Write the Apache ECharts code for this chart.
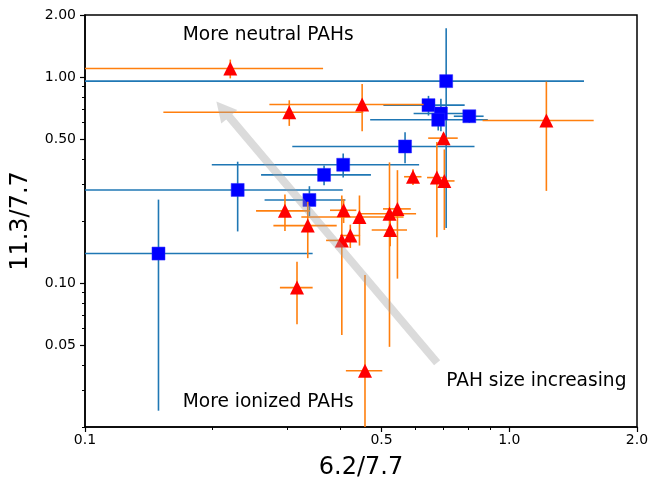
<!DOCTYPE html>
<html><head><meta charset="utf-8">
<script src="https://cdn.jsdelivr.net/npm/echarts@6/dist/echarts.min.js"></script>
<style>html,body{margin:0;padding:0;background:#fff}#c{width:650px;height:485px}</style>
</head><body><div id="c"></div>
<script>
// ---- data ----
const blueX    = [0.71, 0.645, 0.69, 0.68, 0.805, 0.568, 0.406, 0.366, 0.229, 0.338, 0.149];
const blueY    = [0.955, 0.73, 0.665, 0.62, 0.645, 0.46, 0.375, 0.335, 0.283, 0.253, 0.139];
const blueXErr = [0.79, 0.14, 0.095, 0.21, 0.065, 0.26, 0.207, 0.106, 0.176, 0.073, 0.195];
const blueYErr = [0.77, 0.08, 0.12, 0.07, 0.046, 0.079, 0.05, 0.037, 0.105, 0.042, 0.115];

const redX    = [0.22, 0.303, 0.45, 1.223, 0.70, 0.593, 0.675, 0.703, 0.296, 0.335, 0.407, 0.4435, 0.522, 0.545, 0.524, 0.422, 0.403, 0.316, 0.457];
const redY    = [1.10, 0.675, 0.736, 0.615, 0.505, 0.328, 0.325, 0.313, 0.224, 0.19, 0.2255, 0.209, 0.217, 0.229, 0.181, 0.170, 0.161, 0.095, 0.0375];
const redXErr = [0.144, 0.15, 0.178, 0.358, 0.056, 0.028, 0.035, 0.04, 0.043, 0.057, 0.029, 0.12, 0.081, 0.041, 0.05, 0.023, 0.033, 0.028, 0.045];
const redYErr = [0.115, 0.096, 0.19, 0.335, 0.03, 0.029, 0.158, 0.132, 0.045, 0.058, 0.03, 0.057, 0.168, 0.124, 0.03, 0.022, 0.105, 0.032, 0.072];

const xMajorTicks = [0.1, 0.5, 1.0, 2.0];
const xTickLabels = ['0.1', '0.5', '1.0', '2.0'];
const xMinorTicks = [0.2, 0.3, 0.4, 0.6, 0.7, 0.8, 0.9];
const yMajorTicks = [0.05, 0.1, 0.5, 1.0, 2.0];
const yTickLabels = ['0.05', '0.10', '0.50', '1.00', '2.00'];
const yMinorTicks = [0.02, 0.03, 0.04, 0.06, 0.07, 0.08, 0.09, 0.2, 0.3, 0.4, 0.6, 0.7, 0.8, 0.9];

const arrowTail = [0.676, 0.041];
const arrowTip  = [0.204, 0.76];
const annX    = [0.17, 0.17, 0.71];
const annY    = [1.6, 0.0265, 0.0335];
const annText = ['More neutral PAHs', 'More ionized PAHs', 'PAH size increasing'];

const X_MIN = 0.1, X_MAX = 2.0, Y_MIN = 0.02, Y_MAX = 2.0;
const FONT = 'DejaVu Sans';

function pickLabel(vals, labels, v) {
  let best = 0, bd = Infinity;
  vals.forEach((t, i) => { const d = Math.abs(Math.log(t) - Math.log(v)); if (d < bd) { bd = d; best = i; } });
  return labels[best];
}

function errRender(color) {
  return function (params, api) {
    const x = api.value(0), y = api.value(1), ex = api.value(2), ey = api.value(3);
    const c = api.coord([x, y]);
    const xl = api.coord([Math.max(x - ex, X_MIN), y]);
    const xr = api.coord([Math.min(x + ex, X_MAX), y]);
    const yt = api.coord([x, Math.min(y + ey, Y_MAX)]);
    const yb = api.coord([x, Math.max(y - ey, Y_MIN)]);
    const st = { stroke: color, lineWidth: 1.6 };
    return { type: 'group', children: [
      { type: 'line', shape: { x1: xl[0], y1: c[1], x2: xr[0], y2: c[1] }, style: st },
      { type: 'line', shape: { x1: c[0], y1: yt[1], x2: c[0], y2: yb[1] }, style: st }
    ]};
  };
}

const chart = echarts.init(document.getElementById('c'), null, { renderer: 'canvas' });
const axisCommonX = { type: 'log', logBase: 10, min: X_MIN, max: X_MAX, position: 'bottom', splitLine: { show: false } };
const axisCommonY = { type: 'log', logBase: 10, min: Y_MIN, max: Y_MAX, position: 'left', splitLine: { show: false } };

chart.setOption({
  animation: false,
  backgroundColor: '#fff',
  grid: { left: 85, right: 13, top: 15, bottom: 58, outerBoundsMode: 'none', containLabel: false,
    show: true, borderColor: '#000', borderWidth: 1.5, backgroundColor: 'transparent' },
  xAxis: [
    Object.assign({}, axisCommonX, {
      name: '6.2/7.7', nameLocation: 'middle', nameGap: 29,
      nameTextStyle: { fontFamily: FONT, fontSize: 24, color: '#000' },
      axisLine: { show: true, lineStyle: { color: '#000', width: 1.5 } },
      axisTick: { show: true, customValues: xMajorTicks, length: 5, lineStyle: { color: '#000', width: 1.2 } },
      axisLabel: { show: true, customValues: xMajorTicks, margin: 6, fontFamily: FONT, fontSize: 14, color: '#000',
        formatter: v => pickLabel(xMajorTicks, xTickLabels, v) }
    }),
    Object.assign({}, axisCommonX, {
      axisLine: { show: false },
      axisTick: { show: true, customValues: xMinorTicks, length: 3, lineStyle: { color: '#000', width: 1 } },
      axisLabel: { show: false }
    })
  ],
  yAxis: [
    Object.assign({}, axisCommonY, {
      name: '11.3/7.7', nameLocation: 'middle', nameGap: 52, nameRotate: 90,
      nameTextStyle: { fontFamily: FONT, fontSize: 24, color: '#000' },
      axisLine: { show: true, lineStyle: { color: '#000', width: 1.5 } },
      axisTick: { show: true, customValues: yMajorTicks, length: 5, lineStyle: { color: '#000', width: 1.2 } },
      axisLabel: { show: true, customValues: yMajorTicks, margin: 9, fontFamily: FONT, fontSize: 14, color: '#000',
        formatter: v => pickLabel(yMajorTicks, yTickLabels, v) }
    }),
    Object.assign({}, axisCommonY, {
      axisLine: { show: false },
      axisTick: { show: true, customValues: yMinorTicks, length: 3, lineStyle: { color: '#000', width: 1 } },
      axisLabel: { show: false }
    })
  ],
  series: [
    { type: 'custom', name: 'blueErr', xAxisIndex: 0, yAxisIndex: 0, z: 2, clip: true,
      renderItem: errRender('#1f77b4'), encode: { x: 0, y: 1 },
      data: blueX.map((x, i) => [x, blueY[i], blueXErr[i], blueYErr[i]]) },
    { type: 'scatter', name: 'blue', xAxisIndex: 0, yAxisIndex: 0, z: 3, symbol: 'rect', symbolSize: 13,
      itemStyle: { color: '#0000ff', borderColor: '#2a2aff', borderWidth: 0.5, opacity: 1 },
      emphasis: { disabled: true },
      data: blueX.map((x, i) => [x, blueY[i]]) },
    { type: 'custom', name: 'redErr', xAxisIndex: 0, yAxisIndex: 0, z: 4, clip: true,
      renderItem: errRender('#ff7f0e'), encode: { x: 0, y: 1 },
      data: redX.map((x, i) => [x, redY[i], redXErr[i], redYErr[i]]) },
    { type: 'scatter', name: 'red', xAxisIndex: 0, yAxisIndex: 0, z: 5, symbol: 'triangle', symbolSize: 14,
      itemStyle: { color: '#ff0000', opacity: 1 },
      emphasis: { disabled: true },
      data: redX.map((x, i) => [x, redY[i]]) },
    { type: 'custom', name: 'arrow', xAxisIndex: 0, yAxisIndex: 0, z: 6, silent: true,
      encode: { x: [0, 2], y: [1, 3] },
      data: [[arrowTail[0], arrowTail[1], arrowTip[0], arrowTip[1]]],
      renderItem: function (params, api) {
        const t = api.coord([api.value(0), api.value(1)]);
        const h = api.coord([api.value(2), api.value(3)]);
        const dx = h[0] - t[0], dy = h[1] - t[1], L = Math.hypot(dx, dy);
        const ux = dx / L, uy = dy / L, px = -uy, py = ux;
        const sw = 4, hw = 10.5, hl = 20;
        const bx = h[0] - ux * hl, by = h[1] - uy * hl;
        const pts = [
          [t[0] + px * sw, t[1] + py * sw], [bx + px * sw, by + py * sw], [bx + px * hw, by + py * hw],
          [h[0], h[1]], [bx - px * hw, by - py * hw], [bx - px * sw, by - py * sw], [t[0] - px * sw, t[1] - py * sw]
        ];
        return { type: 'polygon', shape: { points: pts }, style: { fill: 'rgba(160,160,160,0.38)' } };
      } },
    { type: 'custom', name: 'text', xAxisIndex: 0, yAxisIndex: 0, z: 7, silent: true,
      encode: { x: 0, y: 1 },
      data: annX.map((x, i) => [x, annY[i]]),
      renderItem: function (params, api) {
        const p = api.coord([api.value(0), api.value(1)]);
        return { type: 'text', style: { text: annText[params.dataIndex], x: p[0], y: p[1],
          font: '18.6px "DejaVu Sans"', fill: '#000', align: 'left', verticalAlign: 'middle' } };
      } }
  ]
});
</script>
</body></html>
